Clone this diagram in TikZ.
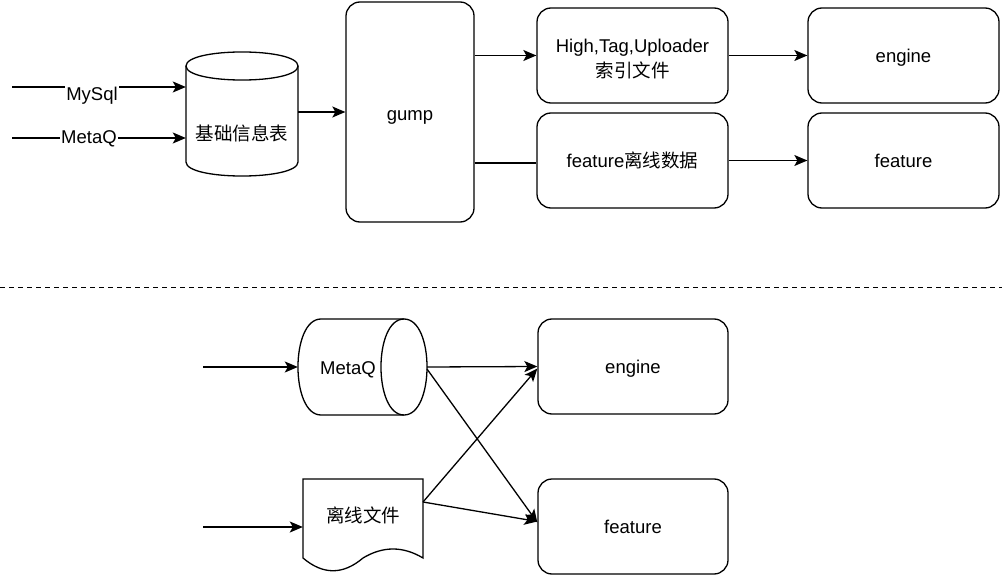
\documentclass[tikz,border=0pt]{standalone}
\usepackage{fontspec}
\setmainfont{Liberation Sans}
\newfontfamily\cjk{Noto Sans CJK SC}
\usetikzlibrary{arrows.meta,calc}
\begin{document}
\begin{tikzpicture}[x=1pt,y=-1pt,
  every node/.style={font=\fontsize{18.5}{23}\selectfont},
  box/.style={draw, rounded corners=14pt, line width=1.3pt, align=center, inner sep=0pt},
  oneline/.style={text height=13.5pt, text depth=0pt},
  ghost/.style={inner sep=0pt, draw=none},
  conn/.style={line width=1.3pt},
  arr/.style={conn, -{Stealth[length=13pt,width=11pt,inset=3pt]}},
  lbl/.style={fill=white, inner sep=1pt}]
\useasboundingbox (0,0) rectangle (1002,575);

% ---------- upper part ----------
\node[box, text height=17.5pt, text depth=0pt, minimum width=128, minimum height=220] (gump) at (410,112) {gump};
\node[box, minimum width=191, minimum height=95] (high) at (632.5,55.5) {\rule{0pt}{21pt}High,Tag,Uploader\\[2pt]{\cjk 索引文件}};
\node[box, oneline, minimum width=191, minimum height=95] (fdata) at (632.5,160.5) {feature{\cjk 离线数据}};
\node[box, oneline, minimum width=191, minimum height=95] (engine) at (903.5,55.5) {engine};
\node[box, oneline, minimum width=191, minimum height=95] (feature) at (903.5,160.5) {feature};

% cylinder 基础信息表
\node[ghost, minimum width=112, minimum height=124] (db) at (242,114) {};
\node (dbl) at (242,133) {\cjk 基础信息表};
\draw[conn] (186,66) .. controls (186,47.3) and (298,47.3) .. (298,66)
                     .. controls (298,84.7) and (186,84.7) .. (186,66);
\draw[conn] (186,66) -- (186,162) .. controls (186,180.7) and (298,180.7) .. (298,162) -- (298,66);

\coordinate (in1) at (12,87);
\coordinate (in2) at (12,138);
\draw[arr] (in1) -- (db.west |- in1);
\draw[arr] (in2) -- (db.west |- in2);
\node[lbl] (mysql) at (92,96) {MySql};
\node[lbl] (metaq1) at (89,139) {MetaQ};

\draw[arr] (db.east |- gump) -- (gump.west);
\draw[arr] (gump.east |- high) -- (high.west);
\draw[conn] (gump.east |- 0,163) -- (fdata.west |- 0,163);
\draw[arr] (high.east) -- (engine.west);
\draw[arr] (fdata.east) -- (feature.west);

% dashed separator
\coordinate (sepL) at (0,287);
\coordinate (sepR) at (1002,287);
\draw[line width=1pt, dash pattern=on 5pt off 4pt] (sepL) -- (sepR);

% ---------- lower part ----------
\node[box, oneline, minimum width=190, minimum height=95] (engine2) at (633,366.5) {engine};
\node[box, oneline, minimum width=190, minimum height=95] (feature2) at (633,526.5) {feature};

% horizontal cylinder MetaQ
\node[ghost, minimum width=129, minimum height=96] (mq) at (362.5,367) {};
\node[oneline] (mql) at (348,368) {MetaQ};
\draw[conn] (404,319) -- (321,319) .. controls (290.3,319) and (290.3,415) .. (321,415) -- (404,415);
\draw[conn] (404,319) .. controls (434.7,319) and (434.7,415) .. (404,415)
                      .. controls (373.3,415) and (373.3,319) .. (404,319);

% document 离线文件
\node[ghost, minimum width=120, minimum height=90] (doc) at (363,519) {};
\node (docl) at (363,515) {\cjk 离线文件};
\draw[conn] (303,558) -- (303,479) -- (423,479) -- (423,558)
   .. controls (403,546) and (383,546) .. (363,558)
   .. controls (343,575) and (323,575) .. (303,558) -- cycle;

\coordinate (in3) at (203,367);
\coordinate (in4) at (203,527);
\draw[arr] (in3) -- (mq.west |- in3);
\draw[arr] (in4) -- (doc.west |- in4);

\coordinate (docout) at (423,502);
\coordinate (mqout) at (427,369);
\draw[arr] (mq.east) -- (engine2.west);
\draw[arr] (mqout) -- ([yshift=4pt]feature2.west);
\draw[arr] (docout) -- ([yshift=-2pt]engine2.west);
\draw[arr] (docout) -- ([yshift=5pt]feature2.west);
\end{tikzpicture}
\end{document}
